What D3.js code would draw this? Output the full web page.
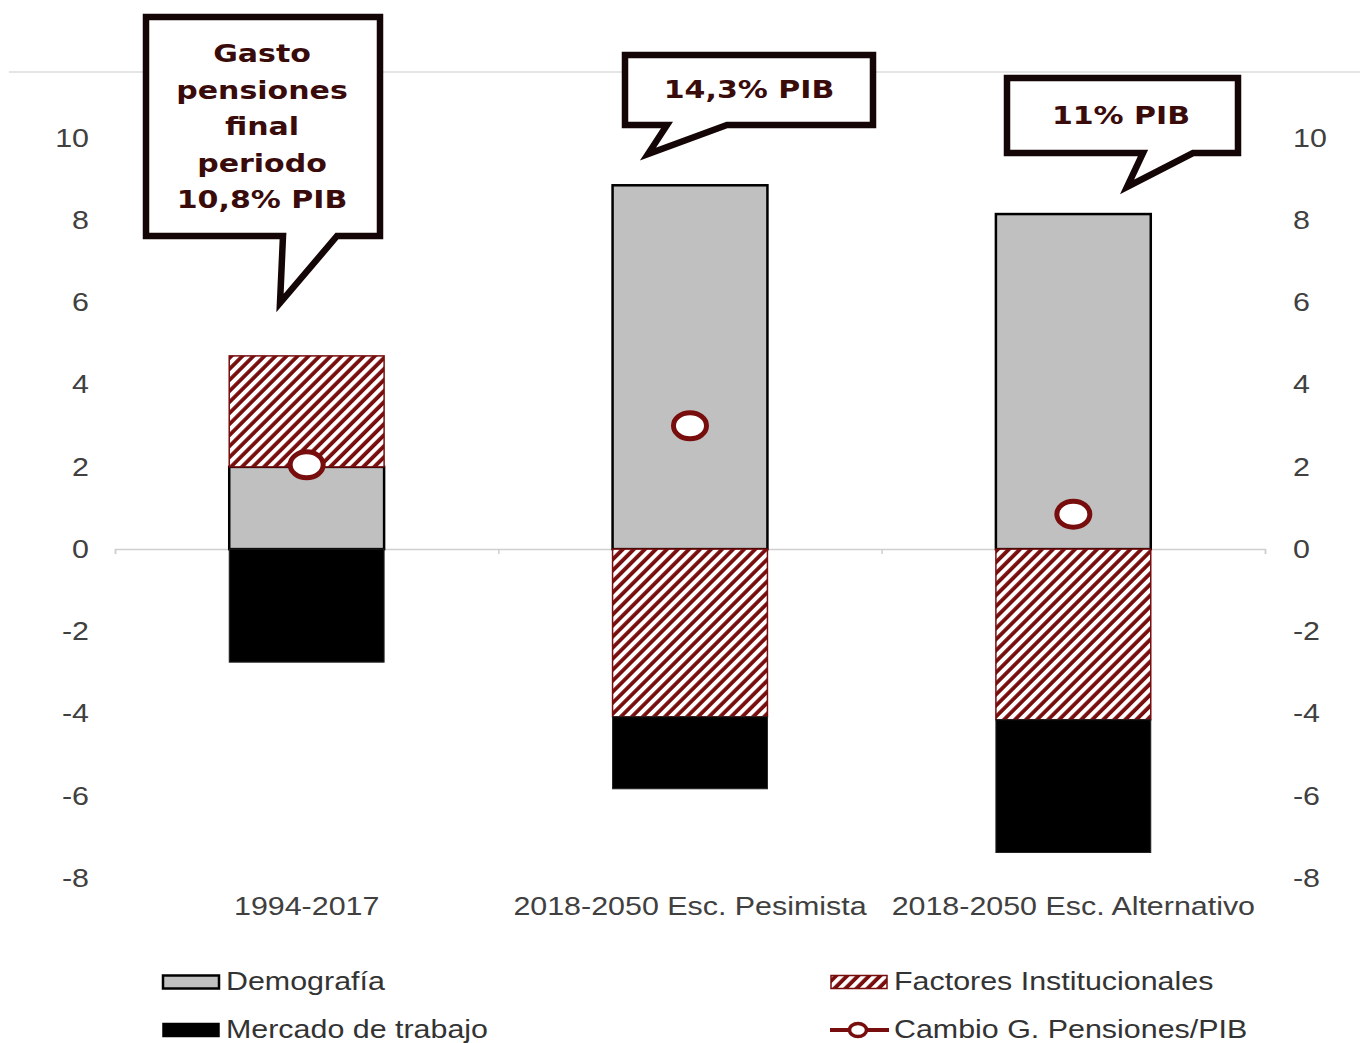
<!DOCTYPE html>
<html>
<head>
<meta charset="utf-8">
<script src="https://cdn.jsdelivr.net/npm/d3@7"></script>
<style>
  body { margin: 0; background: #fff; }
  svg { display: block; }
</style>
</head>
<body>
<svg id="mainsvg" width="1360" height="1043"></svg>
<script>
// datos
const categories = ['1994-2017', '2018-2050 Esc. Pesimista', '2018-2050 Esc. Alternativo'];
const demografia = [2.0, 8.85, 8.15];
const institucionales = [2.7, -4.08, -4.15];
const mercado = [-2.75, -1.75, -3.23];
const cambio = [2.05, 3.0, 0.85];
const yTicks = [-8, -6, -4, -2, 0, 2, 4, 6, 8, 10];
const callouts = [
  ['Gasto', 'pensiones', 'final', 'periodo', '10,8% PIB'],
  ['14,3% PIB'],
  ['11% PIB']
];
const seriesNames = ['Demografía', 'Factores Institucionales', 'Mercado de trabajo', 'Cambio G. Pensiones/PIB'];

const RED = '#780d0d';
const SX = 1.17; // el original esta estirado en horizontal
const svg = d3.select('#mainsvg');

const rows = categories.map((c, i) => ({
  cat: c, demo: demografia[i], inst: institucionales[i], merc: mercado[i]
}));

const xScale = d3.scaleBand()
  .domain(categories)
  .range([115, 1265])
  .paddingInner(0.596)
  .paddingOuter(0.298);
const yScale = d3.scaleLinear()
  .domain([-8, 10])
  .range([878, 138]);

// trama rayada
const defs = svg.append('defs');
const pat = defs.append('pattern')
  .attr('id', 'hatch')
  .attr('patternUnits', 'userSpaceOnUse')
  .attr('width', 7.8).attr('height', 7.8)
  .attr('patternTransform', 'rotate(45)');
pat.append('rect').attr('width', 7.8).attr('height', 7.8).attr('fill', '#fff');
pat.append('line')
  .attr('x1', 2).attr('x2', 2).attr('y1', 0).attr('y2', 7.8)
  .attr('stroke', RED).attr('stroke-width', 3.8);

// linea superior del marco
svg.append('line')
  .attr('x1', 9).attr('x2', 1360)
  .attr('y1', 72).attr('y2', 72)
  .attr('stroke', '#dcdcdc').attr('stroke-width', 1.5);

// ejes Y
const tickText = sel => sel.selectAll('text')
  .attr('font-family', 'Liberation Sans, Arial, sans-serif')
  .attr('font-size', 26)
  .attr('fill', '#404040')
  .attr('transform', `scale(${SX},1)`);

svg.append('g')
  .attr('transform', 'translate(89,0)')
  .call(d3.axisLeft(yScale).tickValues(yTicks).tickSize(0).tickPadding(0).tickFormat(d => String(d)))
  .call(g => g.select('.domain').remove())
  .call(tickText);

svg.append('g')
  .attr('transform', 'translate(1293,0)')
  .call(d3.axisRight(yScale).tickValues(yTicks).tickSize(0).tickPadding(0).tickFormat(d => String(d)))
  .call(g => g.select('.domain').remove())
  .call(tickText);

// eje X en cero
const xEdges = d3.scaleLinear().domain([0, categories.length]).range(xScale.range());
svg.append('g')
  .attr('transform', `translate(0,${yScale(0)})`)
  .call(d3.axisBottom(xEdges).ticks(categories.length).tickSize(5).tickFormat(''))
  .call(g => g.selectAll('path, line').attr('stroke', '#cfcfcf').attr('stroke-width', 1.5));

// barras apiladas
const stack = d3.stack()
  .keys(['demo', 'inst', 'merc'])
  .offset(d3.stackOffsetDiverging);
const stacked = stack(rows);
const styles = {
  demo: { fill: '#c0c0c0', stroke: '#000', sw: 2.5 },
  inst: { fill: 'url(#hatch)', stroke: RED, sw: 1.5 },
  merc: { fill: '#000', stroke: '#222', sw: 1 }
};

svg.append('g')
  .selectAll('g')
  .data(stacked)
  .join('g')
  .each(function (s) {
    const st = styles[s.key];
    d3.select(this).selectAll('rect')
      .data(s)
      .join('rect')
      .attr('x', d => xScale(d.data.cat))
      .attr('width', xScale.bandwidth())
      .attr('y', d => yScale(Math.max(d[0], d[1])))
      .attr('height', d => Math.abs(yScale(d[0]) - yScale(d[1])))
      .attr('fill', st.fill)
      .attr('stroke', st.stroke)
      .attr('stroke-width', st.sw);
  });

// marcadores del cambio
svg.append('g')
  .selectAll('ellipse')
  .data(cambio)
  .join('ellipse')
  .attr('cx', (d, i) => xScale(categories[i]) + xScale.bandwidth() / 2)
  .attr('cy', d => yScale(d))
  .attr('rx', 16.5)
  .attr('ry', 13)
  .attr('fill', '#fff')
  .attr('stroke', RED)
  .attr('stroke-width', 5);

// etiquetas de categoria
svg.append('g')
  .selectAll('text')
  .data(categories)
  .join('text')
  .attr('transform', d => `translate(${xScale(d) + xScale.bandwidth() / 2},915) scale(${SX},1)`)
  .attr('text-anchor', 'middle')
  .attr('font-family', 'Liberation Sans, Arial, sans-serif')
  .attr('font-size', 26)
  .attr('fill', '#404040')
  .text(d => d);

// globos de texto
const bubbles = [
  { x0: 146, x1: 380, y0: 17, y1: 236, tl: 283, tip: [280, 303], tr: 337, cx: 262, ty: 62 },
  { x0: 625, x1: 873, y0: 55, y1: 125, tl: 667, tip: [648, 154], tr: 727, cx: 749, ty: 98 },
  { x0: 1007, x1: 1238, y0: 78, y1: 153, tl: 1143, tip: [1127, 187], tr: 1193, cx: 1121, ty: 124 }
];
const bg = svg.append('g');
bubbles.forEach((b, i) => {
  bg.append('path')
    .attr('d', `M${b.x0},${b.y0}H${b.x1}V${b.y1}H${b.tr}L${b.tip[0]},${b.tip[1]}L${b.tl},${b.y1}H${b.x0}Z`)
    .attr('fill', '#fff')
    .attr('stroke', '#140606')
    .attr('stroke-width', 6.5)
    .attr('stroke-linejoin', 'miter');
  bg.append('g')
    .selectAll('text')
    .data(callouts[i])
    .join('text')
    .attr('transform', (d, j) => `translate(${b.cx},${b.ty + j * 36.5}) scale(${SX + 0.03},1)`)
    .attr('text-anchor', 'middle')
    .attr('font-family', 'DejaVu Sans, Verdana, sans-serif')
    .attr('font-weight', 'bold')
    .attr('font-size', 25)
    .attr('fill', '#3a0b0b')
    .text(d => d);
});

// leyenda
const legend = svg.append('g')
  .attr('font-family', 'Liberation Sans, Arial, sans-serif')
  .attr('font-size', 26)
  .attr('fill', '#333');
const legendItems = [
  { name: seriesNames[0], x: 163, y: 982, kind: 'demo' },
  { name: seriesNames[2], x: 163, y: 1030, kind: 'merc' },
  { name: seriesNames[1], x: 831, y: 982, kind: 'inst' },
  { name: seriesNames[3], x: 831, y: 1030, kind: 'line' }
];
legendItems.forEach(it => {
  const g = legend.append('g');
  if (it.kind === 'line') {
    g.append('line')
      .attr('x1', it.x - 1).attr('x2', it.x + 58)
      .attr('y1', it.y).attr('y2', it.y)
      .attr('stroke', RED).attr('stroke-width', 4);
    g.append('ellipse')
      .attr('cx', it.x + 27).attr('cy', it.y)
      .attr('rx', 8.5).attr('ry', 6.5)
      .attr('fill', '#fff').attr('stroke', RED).attr('stroke-width', 3.5);
  } else {
    const st = styles[it.kind];
    g.append('rect')
      .attr('x', it.x).attr('y', it.y - 6.5)
      .attr('width', 56).attr('height', 13)
      .attr('fill', st.fill)
      .attr('stroke', it.kind === 'merc' ? '#000' : st.stroke)
      .attr('stroke-width', it.kind === 'demo' ? 2.5 : 1.5);
  }
  g.append('text')
    .attr('transform', `translate(${it.x + 63},${it.y + 8}) scale(${SX},1)`)
    .text(it.name);
});
</script>
</body>
</html>
